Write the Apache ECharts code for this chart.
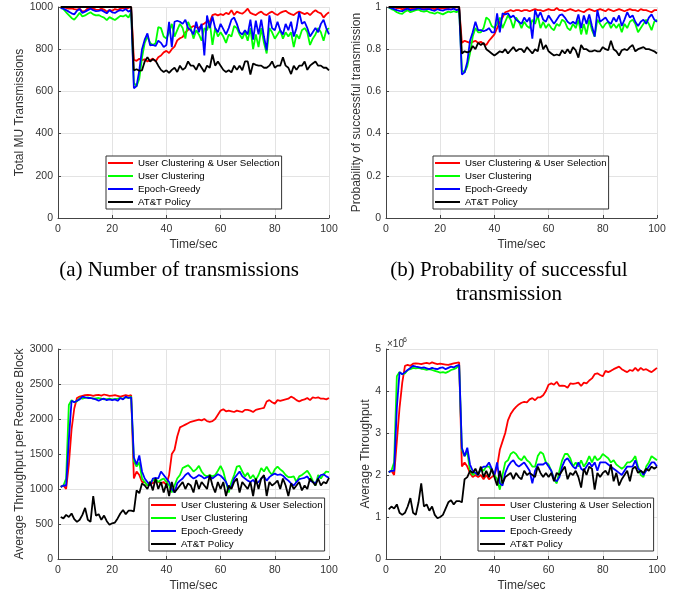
<!DOCTYPE html>
<html><head><meta charset="utf-8">
<script src="https://cdn.jsdelivr.net/npm/echarts@6/dist/echarts.min.js"></script>
<style>html,body{margin:0;padding:0;background:#fff}#c{width:686px;height:594px}</style>
</head><body><div id="c"></div>
<script>
const time = [1,2,3,4,5,6,7,8,9,10,11,12,13,14,15,16,17,18,19,20,21,22,23,24,25,26,27,28,29,30,31,32,33,34,35,36,37,38,39,40,41,42,43,44,45,46,47,48,49,50,51,52,53,54,55,56,57,58,59,60,61,62,63,64,65,66,67,68,69,70,71,72,73,74,75,76,77,78,79,80,81,82,83,84,85,86,87,88,89,90,91,92,93,94,95,96,97,98,99,100];
const seriesNames = ['User Clustering & User Selection','User Clustering','Epoch-Greedy','AT&T Policy'];

// (a) Total MU transmissions
const txRed = [1000,998,996,992,994,990,988,992,978,982, 994,996,992,988,986,992,988,978,986,982, 990,986,992,996,990,996,1000,750,745,755, 748,752,742,748,756,742,762,770,785,792, 782,800,812,842,852,858,880,892,902,910, 905,900,915,922,932,928,962,966,960,966, 962,972,966,985,962,978,972,968,978,992, 972,966,962,972,978,966,962,972,978,968, 962,972,978,982,972,966,962,972,978,972, 966,972,962,975,985,975,970,950,965,975];
const txGreen = [998,990,975,962,948,940,955,972,955,960, 968,975,965,960,962,955,950,938,952,945, 938,948,958,955,962,950,975,640,625,660, 760,830,860,830,820,828,905,900,860,850, 880,920,860,890,920,900,850,930,900,850, 890,870,840,900,890,930,820,900,860,880, 860,830,870,860,910,900,870,850,880,840, 900,800,870,810,900,830,780,900,880,850, 870,890,850,880,860,880,810,870,850,890, 900,880,820,850,870,900,880,840,890,900];
const txBlue = [995,992,985,978,970,965,982,990,972,978, 985,992,985,980,982,985,978,970,985,975, 972,980,985,982,990,978,985,615,625,700, 800,845,875,818,820,815,840,830,810,820, 930,810,930,935,930,920,940,900,890,870, 930,880,920,770,960,900,955,900,880,920, 895,870,900,940,950,920,880,870,890,870, 940,845,935,870,940,860,795,960,900,890, 930,890,870,920,890,930,860,900,975,920, 930,900,860,880,900,880,920,940,900,870];
const txBlack = [1000,1000,1000,1000,1000,1000,1000,1000,1000,1000, 1000,1000,1000,1000,1000,1000,1000,1000,1000,1000, 1000,1000,1000,1000,1000,1000,1000,700,705,698, 700,742,762,742,752,745,722,702,692,700, 688,702,712,692,722,702,712,742,722,722, 702,732,712,692,722,712,775,722,742,722, 702,692,700,690,722,702,722,700,742,742, 680,732,726,722,722,712,712,722,742,712, 722,722,762,722,712,682,722,702,722,722, 742,702,722,732,742,722,722,712,712,700];

// (b) Probability of successful transmission
const prRed = [1,1,.998,.995,.995,.99,.992,.995,.99,.992, .995,.998,.995,.992,.99,.995,.993,.99,.995,.992, .995,.993,.995,.998,.995,.998,1,.83,.84,.835, .83,.835,.84,.83,.835,.825,.82,.84,.855,.87, .90,.93,.95,.975,.98,.985,.98,.985,.985,.98, .985,.985,.98,.985,.99,.985,.985,.98,.985,.99, .985,.985,.995,.985,.985,.98,.985,.99,.985,.98, .985,.98,.975,.985,.99,.985,.98,.985,.99,.985, .98,.99,.985,.98,.985,.99,.985,.98,.985,.99, .985,.985,.98,.99,.985,.985,.98,.975,.985,.985];
const prGreen = [.998,.99,.985,.975,.97,.968,.978,.985,.975,.98, .985,.988,.98,.978,.982,.975,.972,.968,.975,.97, .965,.972,.978,.975,.98,.975,.985,.70,.69,.72, .78,.86,.90,.88,.88,.90,.95,.94,.91,.90, .92,.95,.90,.93,.96,.94,.90,.95,.93,.90, .93,.91,.90,.94,.92,.96,.90,.93,.90,.92, .90,.89,.92,.91,.94,.93,.90,.89,.92,.90, .94,.87,.92,.87,.94,.89,.86,.94,.92,.90, .92,.93,.90,.92,.90,.92,.88,.92,.90,.93, .94,.92,.88,.90,.92,.94,.92,.89,.93,.94];
const prBlue = [.998,.995,.99,.985,.982,.98,.988,.992,.985,.988, .99,.995,.99,.988,.99,.99,.985,.982,.99,.985, .983,.988,.99,.988,.992,.985,.99,.68,.69,.74, .84,.88,.93,.89,.89,.885,.89,.90,.88,.88, .97,.88,.97,.965,.97,.95,.96,.94,.93,.92, .95,.93,.95,.85,.985,.95,.975,.94,.93,.96, .94,.92,.94,.96,.965,.95,.93,.92,.93,.92, .965,.90,.96,.92,.965,.91,.86,.985,.93,.94, .95,.93,.92,.95,.93,.96,.91,.94,.975,.95, .96,.93,.91,.93,.94,.92,.95,.965,.94,.93];
const prBlack = [1,1,1,1,1,1,1,1,1,1, 1,1,1,1,1,1,1,1,1,1, 1,1,1,1,1,1,1,.78,.79,.785, .79,.815,.80,.83,.82,.83,.80,.79,.78,.77, .78,.79,.785,.80,.78,.795,.81,.79,.80,.80, .785,.81,.795,.78,.80,.79,.85,.80,.82,.79, .78,.77,.775,.77,.795,.78,.80,.78,.81,.795, .76,.82,.80,.80,.79,.79,.795,.79,.79,.81, .80,.795,.84,.80,.79,.77,.795,.80,.795,.81, .82,.79,.80,.805,.81,.80,.80,.795,.79,.78];

// (c) Average throughput per resource block
const rbRed = [1030,1050,1000,1350,1850,2150,2300,2320,2330,2340, 2345,2340,2330,2340,2345,2335,2350,2340,2330,2335, 2340,2330,2320,2330,2340,2330,2340,1150,1250,1200, 1100,1100,1050,1100,1080,1120,1100,1080,1100,1060, 1200,1500,1560,1750,1880,1900,1920,1940,1960,1970, 1980,1990,1980,2000,1970,1960,1970,2000,2060,2120, 2140,2110,2120,2110,2100,2120,2110,2100,2130,2130, 2120,2100,2130,2140,2150,2160,2250,2270,2240,2220, 2270,2260,2270,2280,2290,2320,2300,2270,2250,2270, 2280,2300,2270,2310,2300,2310,2290,2290,2280,2300];
const rbGreen = [1030,1050,1150,2200,2270,2240,2250,2300,2290,2300, 2310,2300,2290,2295,2300,2290,2280,2285,2290,2280, 2285,2290,2300,2290,2310,2300,2320,1400,1320,1380, 1150,1100,1050,1100,1120,1150,1100,1130,1150,1100, 1050,950,1050,1150,1200,1300,1320,1340,1300,1250, 1280,1330,1250,1200,1180,1200,1180,1200,1260,1330, 1250,1100,950,1100,1200,1320,1330,1250,1180,1230, 1150,1200,1130,1200,1300,1250,1320,1250,1200,1280, 1320,1280,1250,1200,1170,1170,1180,1100,1180,1200, 1230,1260,1200,1120,1050,1200,1150,1210,1250,1240];
const rbBlue = [1030,1050,1050,1700,2260,2240,2260,2280,2320,2310, 2300,2300,2290,2280,2260,2280,2290,2270,2280,2270, 2280,2260,2300,2280,2320,2300,2310,1450,1350,1480, 1250,1150,1100,1050,1150,1160,1150,1250,1200,1150, 1100,1000,950,1080,1120,1150,1200,1230,1180,1150, 1170,1200,1180,1150,1170,1180,1150,1180,1210,1190, 1150,1100,1000,1030,1150,1200,1250,1180,1150,1120, 1100,1130,1080,1100,1150,1180,1120,1170,1200,1220, 1200,1210,1190,1150,1120,1080,1050,1100,1140,1150, 1160,1180,1120,1100,1080,1150,1200,1210,1180,1160];
const rbBlack = [600,580,630,600,650,570,530,560,630,730, 560,530,900,620,640,560,620,540,490,510, 520,580,650,700,640,690,690,680,980,940, 1080,1050,1000,1100,980,1150,1000,1100,950,1080, 900,1100,950,1000,1050,1100,1000,1080,1050,950, 1130,1000,1100,1050,1000,1200,1050,950,1100,1000, 1100,900,1050,1000,1100,1150,950,1100,1050,1000, 1100,900,1150,1000,1150,1200,900,1100,1050,1080, 1120,1000,1150,1050,900,1080,1000,1050,1100,980, 1050,1000,1150,1100,1050,1150,1050,1100,1080,1160];

// (d) Average throughput (x10^6)
const thRed = [2.07,2.1,2.0,2.8,3.6,4.2,4.6,4.62,4.6,4.65, 4.66,4.65,4.64,4.66,4.67,4.65,4.68,4.66,4.64,4.65, 4.64,4.63,4.62,4.64,4.66,4.67,4.68,2.2,2.3,2.2, 2.05,1.95,2.0,1.95,2.0,1.9,2.0,1.9,1.95,2.0, 2.2,2.6,2.8,3.0,3.3,3.45,3.55,3.62,3.68,3.72, 3.74,3.73,3.8,3.83,3.78,3.85,3.85,3.9,4.0,4.15, 4.18,4.15,4.22,4.12,4.13,4.12,4.08,4.18,4.17,4.18, 4.2,4.12,4.2,4.18,4.25,4.3,4.4,4.42,4.38,4.35, 4.48,4.45,4.48,4.52,4.55,4.58,4.52,4.48,4.45,4.5, 4.48,4.55,4.48,4.55,4.5,4.52,4.48,4.45,4.5,4.55];
const thGreen = [2.07,2.1,2.3,4.35,4.45,4.4,4.42,4.5,4.52,4.55, 4.54,4.55,4.53,4.52,4.5,4.52,4.5,4.48,4.46,4.44, 4.45,4.43,4.46,4.5,4.52,4.55,4.62,2.6,2.45,2.55, 2.1,2.0,2.05,2.0,2.15,2.1,2.2,2.2,2.1,2.0, 1.9,1.65,2.0,2.3,2.35,2.5,2.55,2.5,2.4,2.35, 2.45,2.35,2.3,2.2,2.2,2.45,2.55,2.5,2.3,2.25, 2.1,1.9,1.8,2.1,2.35,2.5,2.5,2.4,2.2,2.3, 2.2,2.35,2.2,2.3,2.45,2.3,2.45,2.35,2.4,2.5, 2.45,2.4,2.3,2.35,2.25,2.2,2.15,2.2,2.3,2.3, 2.35,2.45,2.2,2.0,1.95,2.2,2.3,2.45,2.4,2.35];
const thBlue = [2.07,2.1,2.1,3.6,4.45,4.4,4.45,4.5,4.55,4.6, 4.58,4.57,4.55,4.56,4.54,4.52,4.55,4.53,4.52,4.55, 4.56,4.52,4.55,4.58,4.56,4.6,4.62,2.65,2.45,2.65, 2.25,2.1,2.05,2.0,2.15,2.2,2.2,2.3,2.15,2.0, 2.3,1.8,1.75,2.05,2.2,2.3,2.35,2.25,2.2,2.25, 2.3,2.2,2.1,1.8,2.1,2.25,2.25,2.25,2.3,2.2, 2.1,1.9,1.85,1.95,2.2,2.35,2.4,2.3,2.2,2.15, 2.3,2.15,2.1,2.2,2.3,2.2,2.3,2.1,2.3,2.3, 2.3,2.25,2.2,2.15,2.1,2.05,2.0,2.1,2.2,2.2, 2.2,2.35,2.15,2.1,2.0,2.1,2.2,2.3,2.3,2.2];
const thBlack = [1.18,1.25,1.2,1.3,1.1,1.05,1.1,1.25,1.45,1.1, 1.05,1.35,1.8,1.25,1.3,1.15,1.25,1.05,0.97,1.0, 1.05,1.2,1.35,1.4,1.3,1.38,1.38,1.35,1.9,1.95, 2.1,2.05,2.15,2.0,2.2,1.95,2.1,1.95,2.15,1.95, 1.75,2.1,1.8,1.95,2.0,2.05,1.9,2.05,1.95,1.9, 2.1,2.0,2.05,2.0,1.95,2.2,2.05,1.95,2.05,1.95, 2.05,1.85,2.05,2.0,2.1,2.2,1.9,2.05,2.0,2.1, 1.95,1.7,2.15,2.0,2.2,2.15,1.65,2.05,1.95,2.05, 2.1,2.0,2.25,1.85,2.05,1.75,1.9,2.0,2.1,1.85, 2.15,2.2,2.05,2.1,2.05,2.15,2.1,2.2,2.15,2.2];

const colors = ['#ff0000','#00ff00','#0000ff','#000000'];
const FONT = 'Liberation Sans, Arial, Helvetica, sans-serif';
const SERIF = '21px Liberation Serif, Times New Roman, serif';
const panels = [
  {grid:{left:58,top:7,width:271,height:211}, y:{min:0,max:1000,interval:200}, yName:'Total MU Transmissions', nameGap:27, legend:{left:106,top:156}, data:[txRed,txGreen,txBlue,txBlack]},
  {grid:{left:386,top:7,width:271,height:211}, y:{min:0,max:1,interval:0.2}, yName:'Probability of successful transmission', nameGap:23, legend:{left:433,top:156}, data:[prRed,prGreen,prBlue,prBlack]},
  {grid:{left:58,top:349,width:271,height:210}, y:{min:0,max:3000,interval:500}, yName:'Average Throughput per Reource Block', nameGap:27, legend:{left:149,top:498}, data:[rbRed,rbGreen,rbBlue,rbBlack]},
  {grid:{left:386,top:349,width:271,height:210}, y:{min:0,max:5,interval:1}, yName:'Average Throughput', nameGap:14, legend:{left:478,top:498}, data:[thRed,thGreen,thBlue,thBlack]}
];

const option = {
  animation:false,
  backgroundColor:'#fff',
  grid:[], xAxis:[], yAxis:[], series:[], legend:[],
  graphic:[
    {type:'text', style:{text:'(a) Number of transmissions', font:SERIF, fill:'#000', align:'center', verticalAlign:'middle', x:179, y:270}},
    {type:'text', style:{text:'(b) Probability of successful', font:SERIF, fill:'#000', align:'center', verticalAlign:'middle', x:509, y:270}},
    {type:'text', style:{text:'transmission', font:SERIF, fill:'#000', align:'center', verticalAlign:'middle', x:509, y:294}},
    {type:'text', style:{text:'×10', font:'10px '+FONT, fill:'#333', align:'left', verticalAlign:'middle', x:387, y:344}},
    {type:'text', style:{text:'6', font:'7px '+FONT, fill:'#333', align:'left', verticalAlign:'middle', x:403, y:340}}
  ]
};

panels.forEach((p, i) => {
  option.grid.push(Object.assign({containLabel:false}, p.grid));
  option.xAxis.push({
    type:'value', gridIndex:i, min:0, max:100, interval:20,
    name:'Time/sec', nameLocation:'middle', nameGap:21,
    nameTextStyle:{fontFamily:FONT, fontSize:12, color:'#333'},
    axisLine:{show:true, onZero:false, lineStyle:{color:'#444', width:1}},
    axisTick:{show:true, inside:true, length:3, lineStyle:{color:'#444'}},
    axisLabel:{fontFamily:FONT, fontSize:10.5, color:'#333', margin:6, formatter:v => String(v)},
    splitLine:{show:true, lineStyle:{color:'#e3e3e3', width:1}}
  });
  option.yAxis.push(Object.assign({
    type:'value', gridIndex:i,
    name:p.yName, nameLocation:'middle', nameGap:p.nameGap,
    nameTextStyle:{fontFamily:FONT, fontSize:12, color:'#333'},
    axisLine:{show:true, onZero:false, lineStyle:{color:'#444', width:1}},
    axisTick:{show:true, inside:true, length:3, lineStyle:{color:'#444'}},
    axisLabel:{fontFamily:FONT, fontSize:10.5, color:'#333', margin:5, formatter:v => String(+v.toFixed(4))},
    splitLine:{show:true, lineStyle:{color:'#e3e3e3', width:1}}
  }, p.y));
  p.data.forEach((arr, k) => {
    option.series.push({
      type:'line', name:seriesNames[k], xAxisIndex:i, yAxisIndex:i,
      data: time.map((t, j) => [t, arr[j]]),
      showSymbol:false, symbol:'none', color:colors[k],
      lineStyle:{color:colors[k], width:1.8}, z:2+k
    });
  });
  option.legend.push({
    left:p.legend.left, top:p.legend.top, orient:'vertical',
    data:seriesNames, icon:'rect', itemWidth:25, itemHeight:2, itemGap:1,
    padding:[1,2,1,2], borderColor:'#333', borderWidth:1, backgroundColor:'#fff',
    textStyle:{fontFamily:FONT, fontSize:9.7, color:'#000', lineHeight:12}, selectedMode:false, z:10
  });
});

const chart = echarts.init(document.getElementById('c'), null, {renderer:'canvas'});
chart.setOption(option);
</script></body></html>
